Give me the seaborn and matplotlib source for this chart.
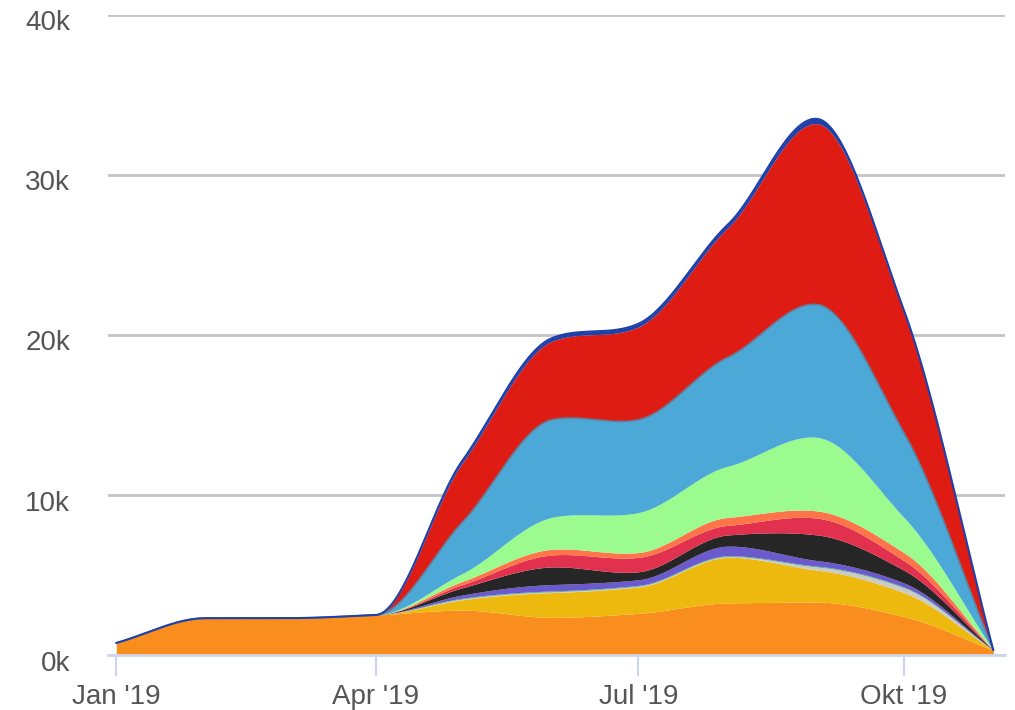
import numpy as np
import pandas as pd
import matplotlib
matplotlib.use("Agg")
import matplotlib.pyplot as plt
import matplotlib.dates as mdates
import matplotlib.transforms as mtransforms
from matplotlib.ticker import FuncFormatter
import seaborn as sns

# monthly values (in thousands), bottom layer first
months = pd.date_range("2019-01-01", "2019-11-01", freq="MS")

orange     = [0.75, 2.3, 2.3, 2.5, 2.8, 2.35, 2.6, 3.25, 3.3, 2.4, 0.3]
yellow     = [0, 0, 0, 0, 0.65, 1.55, 1.65, 2.85, 2.0, 1.5, 0]
gray       = [0, 0, 0, 0, 0.05, 0.05, 0.05, 0.05, 0.2, 0.3, 0]
teal       = [0, 0, 0, 0, 0.05, 0.05, 0.05, 0.05, 0.05, 0.05, 0]
purple     = [0, 0, 0, 0, 0.2, 0.4, 0.35, 0.6, 0.35, 0.25, 0]
dark       = [0, 0, 0, 0, 0.45, 1.1, 0.5, 0.7, 1.6, 0.8, 0]
crimson    = [0, 0, 0, 0, 0.2, 0.75, 0.9, 0.6, 1.05, 0.6, 0]
coral      = [0, 0, 0, 0, 0.2, 0.35, 0.3, 0.5, 0.45, 0.5, 0]
lightgreen = [0, 0, 0, 0, 0.5, 2.0, 2.5, 3.2, 4.6, 2.2, 0]
blue       = [0, 0, 0, 0, 3.2, 6.1, 5.8, 6.8, 8.3, 5.3, 0]
red        = [0, 0, 0, 0, 3.7, 4.9, 5.8, 8.1, 11.3, 7.5, 0]
darkblue   = [0, 0, 0, 0, 0.15, 0.2, 0.2, 0.2, 0.3, 0.15, 0]

series = [orange, yellow, gray, teal, purple, dark, crimson, coral,
          lightgreen, blue, red, darkblue]
colors = ["#F98D1D", "#EDB90E", "#C9CBC4", "#4CAF80", "#6A5ACD", "#262626",
          "#E2304F", "#FF7448", "#9BFB8E", "#4CA8D6", "#DF1C14", "#1E40A8"]

xlabels = ["Jan '19", "Apr '19", "Jul '19", "Okt '19"]
xticks = pd.to_datetime(["2019-01-01", "2019-04-01", "2019-07-01", "2019-10-01"])


def pchip(x, y, xs):
    # shape preserving cubic, so the smooth areas never dip below zero
    x = np.asarray(x, float)
    y = np.asarray(y, float)
    h = np.diff(x)
    delta = np.diff(y) / h
    d = np.zeros_like(y)
    for k in range(1, len(y) - 1):
        if delta[k - 1] * delta[k] > 0:
            w1 = 2 * h[k] + h[k - 1]
            w2 = h[k] + 2 * h[k - 1]
            d[k] = (w1 + w2) / (w1 / delta[k - 1] + w2 / delta[k])
    d[0] = delta[0]
    d[-1] = delta[-1]
    idx = np.clip(np.searchsorted(x, xs) - 1, 0, len(h) - 1)
    t = (xs - x[idx]) / h[idx]
    h00 = 2 * t**3 - 3 * t**2 + 1
    h10 = t**3 - 2 * t**2 + t
    h01 = -2 * t**3 + 3 * t**2
    h11 = t**3 - t**2
    return (h00 * y[idx] + h10 * h[idx] * d[idx]
            + h01 * y[idx + 1] + h11 * h[idx] * d[idx + 1])


sns.set_theme(style="white")
plt.rcParams["font.family"] = ["Liberation Sans", "DejaVu Sans"]

fig = plt.figure(figsize=(10.15, 7.1), dpi=100)
ax = fig.add_axes([0.106, 0.0775, 0.884, 0.9015])

xnum = mdates.date2num(months)
xs = np.linspace(xnum[0], xnum[-1], 600)
smooth = [np.clip(pchip(xnum, np.array(s) * 1000, xs), 0, None) for s in series]

ax.stackplot(mdates.num2date(xs), *smooth, colors=colors, linewidth=0)
cum = np.cumsum(smooth, axis=0)
ax.plot(mdates.num2date(xs), cum[9], color="#5f7f9c", lw=1.2)
ax.plot(mdates.num2date(xs), cum[11], color="#1E40A8", lw=1.5)

ax.set_ylim(0, 40000)
ax.set_xlim(xnum[0] - 3, xnum[-1] + 4)
ax.set_yticks([0, 10000, 20000, 30000, 40000])
ax.yaxis.set_major_formatter(FuncFormatter(lambda v, p: f"{int(v / 1000)}k"))
ax.set_xticks(mdates.date2num(xticks))
ax.set_xticklabels(xlabels)

ax.grid(axis="y", color="#c4c4c4", lw=2)
ax.set_axisbelow(True)
for side in ["left", "right", "top"]:
    ax.spines[side].set_visible(False)
ax.spines["bottom"].set_color("#ccd6eb")
ax.spines["bottom"].set_linewidth(2)
ax.tick_params(axis="x", colors="#ccd6eb", length=15, width=1.5,
               labelcolor="#555555", labelsize=20, pad=6, bottom=True)
ax.tick_params(axis="y", length=0, labelcolor="#555555", labelsize=20, pad=27)
# y labels sit a little below their grid lines
shift = mtransforms.ScaledTranslation(0, -4 / 72, fig.dpi_scale_trans)
for lab in ax.get_yticklabels():
    lab.set_transform(lab.get_transform() + shift)

fig.savefig("out.png", dpi=100)
